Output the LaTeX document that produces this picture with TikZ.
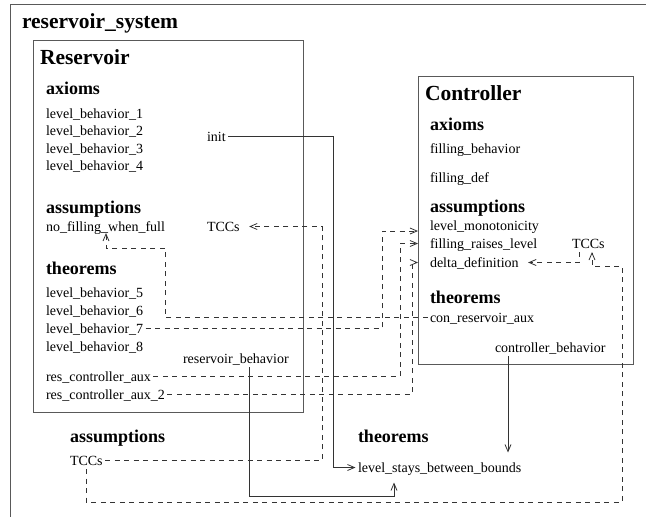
\documentclass[tikz,border=0pt]{standalone}
\usepackage{fontspec}
\setmainfont{Liberation Serif}
\usetikzlibrary{arrows.meta,calc}
\begin{document}
\begin{tikzpicture}[x=1pt,y=-1pt,
  every node/.style={inner sep=0pt, outer sep=0pt},
  lbl/.style={anchor=base west, font=\fontsize{14}{16}\selectfont, text height=12pt, text depth=3pt, inner xsep=2.5pt, inner ysep=1pt},
  hd/.style={anchor=base west, font=\fontsize{18}{20}\selectfont\bfseries},
  ttl/.style={anchor=base west, font=\fontsize{21.5}{24}\selectfont\bfseries},
  boxline/.style={draw=black!65, line width=0.9pt},
  dep/.style={draw=black!80, line width=0.9pt, dash pattern=on 5pt off 4.5pt},
  sol/.style={draw=black!80, line width=0.9pt},
  tip/.style={-{Straight Barb[length=7pt,width=6pt,line width=0.8pt]}},
]
\clip (0,0) rectangle (646,517);
\draw[boxline] (10,4) rectangle (660,530);
\node[ttl] (sys) at (22,28) {reservoir\_system};

% Reservoir
\node[boxline, anchor=north west, minimum width=270pt, minimum height=372pt] (res) at (33,40) {};
\node[ttl] (restitle) at (40,64) {Reservoir};
\node[hd] (resax) at (46,94) {axioms};
\node[lbl] (lb1) at (43.5,118) {level\_behavior\_1};
\node[lbl] (lb2) at (43.5,135.5) {level\_behavior\_2};
\node[lbl] (lb3) at (43.5,153) {level\_behavior\_3};
\node[lbl] (lb4) at (43.5,170.5) {level\_behavior\_4};
\node[lbl] (init) at (204.5,141) {init};
\node[hd] (resas) at (46,213) {assumptions};
\node[lbl] (nfwf) at (43.5,231) {no\_filling\_when\_full};
\node[lbl] (rtcc) at (204.5,231) {TCCs};
\node[hd] (resth) at (46,274) {theorems};
\node[lbl] (lb5) at (43.5,297) {level\_behavior\_5};
\node[lbl] (lb6) at (43.5,315) {level\_behavior\_6};
\node[lbl] (lb7) at (43.5,333) {level\_behavior\_7};
\node[lbl] (lb8) at (43.5,351) {level\_behavior\_8};
\node[lbl] (rb) at (180.5,363) {reservoir\_behavior};
\node[lbl] (rca) at (43.5,381) {res\_controller\_aux};
\node[lbl] (rca2) at (43.5,399) {res\_controller\_aux\_2};

% system level
\node[hd] (sysas) at (70,442) {assumptions};
\node[lbl] (otcc) at (67.5,465) {TCCs};
\node[hd] (systh) at (358,442) {theorems};
\node[lbl, inner ysep=7.5pt] (lsb) at (355.5,472) {level\_stays\_between\_bounds};

% Controller
\node[boxline, anchor=north west, minimum width=215pt, minimum height=288pt] (ctrl) at (418,76) {};
\node[ttl] (ctitle) at (425,100) {Controller};
\node[hd] (cax) at (430,130) {axioms};
\node[lbl] (fb) at (427.5,153) {filling\_behavior};
\node[lbl] (fd) at (427.5,182) {filling\_def};
\node[hd] (cas) at (430,212) {assumptions};
\node[lbl] (lm) at (427.5,230) {level\_monotonicity};
\node[lbl] (frl) at (427.5,248) {filling\_raises\_level};
\node[lbl] (dd) at (427.5,267) {delta\_definition};
\node[lbl] (ctcc) at (569.5,248) {TCCs};
\node[hd] (cth) at (430,303) {theorems};
\node[lbl] (cra) at (427.5,322) {con\_reservoir\_aux};
\node[lbl] (cb) at (492.5,352) {controller\_behavior};

% routing coordinates
\coordinate (vinit) at (333,0);
\coordinate (vrb) at (249,0);
\coordinate (hrb) at (0,496);
\coordinate (vlsb) at (394,0);
\coordinate (vcb) at (508,0);
\coordinate (vcra) at (165,0);
\coordinate (hnf) at (0,248);
\coordinate (vnf) at (106,0);
\coordinate (vlb7) at (382,0);
\coordinate (hlm) at (0,231);
\coordinate (vrca) at (400,0);
\coordinate (vrca2) at (412,0);
\coordinate (vtcc) at (322,0);
\coordinate (hbot) at (0,502);
\coordinate (vright) at (622,0);
\coordinate (hct) at (0,266);
\coordinate (vct) at (592,0);
\coordinate (vctd) at (579,0);

% solid connectors
\draw[sol,tip] (init.east) -| (vinit |- lsb.west) -- (lsb.west);
\draw[sol,tip] (rb.south -| vrb) -- (vrb |- hrb) -| (vlsb |- lsb.south);
\draw[sol,tip] (cb.south -| vcb) -- (vcb |- lsb.north);

% dashed connectors
\draw[dep,tip,shorten >=-2pt] (cra.west) -| (vcra |- hnf) -- (vnf |- hnf) -- (vnf |- nfwf.south);
\draw[dep,tip] (lb7.east) -| (vlb7 |- hlm) -- (ctrl.west |- hlm);
\draw[dep,tip] (rca.east) -| (vrca |- frl.west) -- (ctrl.west |- frl.west);
\draw[dep,tip] (rca2.east) -| (vrca2 |- dd.west) -- (ctrl.west |- dd.west);
\draw[dep,tip,shorten >=7pt] (otcc.east) -| (vtcc |- rtcc.east) -- (rtcc.east);
\draw[dep,tip] (otcc.south) -- (otcc.south |- hbot) -| (vright |- hct) -- (vct |- hct) -- (vct |- ctcc.south);
\draw[dep,tip,shorten >=7pt] (vctd |- ctcc.south) -- (vctd |- dd.east) -- (dd.east);
\end{tikzpicture}
\end{document}
